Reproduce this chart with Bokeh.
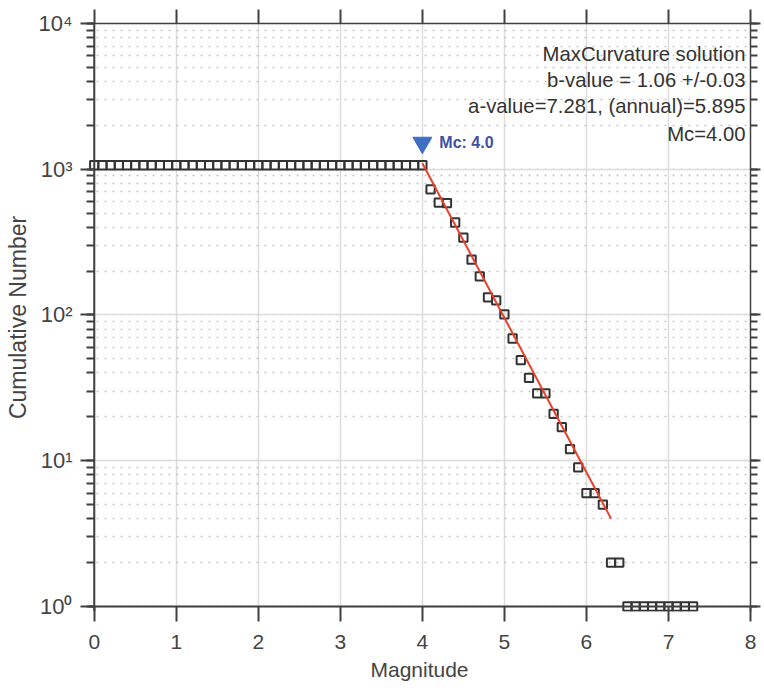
from bokeh.plotting import figure
from bokeh.models import (Range1d, LinearAxis, LogAxis, LogTicker, FixedTicker,
                          CustomJSTickFormatter, Label, ColumnDataSource, Span)
from bokeh.embed import file_html
from bokeh.resources import INLINE

# ---------------- data ----------------
magnitude = [0.0, 0.1, 0.2, 0.3, 0.4, 0.5, 0.6, 0.7, 0.8, 0.9,
             1.0, 1.1, 1.2, 1.3, 1.4, 1.5, 1.6, 1.7, 1.8, 1.9,
             2.0, 2.1, 2.2, 2.3, 2.4, 2.5, 2.6, 2.7, 2.8, 2.9,
             3.0, 3.1, 3.2, 3.3, 3.4, 3.5, 3.6, 3.7, 3.8, 3.9,
             4.0, 4.1, 4.2, 4.3, 4.4, 4.5, 4.6, 4.7, 4.8, 4.9,
             5.0, 5.1, 5.2, 5.3, 5.4, 5.5, 5.6, 5.7, 5.8, 5.9,
             6.0, 6.1, 6.2, 6.3, 6.4, 6.5, 6.6, 6.7, 6.8, 6.9,
             7.0, 7.1, 7.2, 7.3]
cumulative = [1065, 1065, 1065, 1065, 1065, 1065, 1065, 1065, 1065, 1065,
              1065, 1065, 1065, 1065, 1065, 1065, 1065, 1065, 1065, 1065,
              1065, 1065, 1065, 1065, 1065, 1065, 1065, 1065, 1065, 1065,
              1065, 1065, 1065, 1065, 1065, 1065, 1065, 1065, 1065, 1065,
              1065, 728, 591, 585, 431, 340, 240, 184, 132, 126,
              101, 69, 49, 37, 29, 29, 21, 17, 12, 9,
              6, 6, 5, 2, 2, 1, 1, 1, 1, 1,
              1, 1, 1, 1]

b_value = 1.06
a_value = 7.281
fit_mag = [4.0, 6.3]
mc_mag = [4.0]
mc_marker_count = [1520]

info_lines = ["MaxCurvature solution",
              "b-value = 1.06 +/-0.03",
              "a-value=7.281, (annual)=5.895",
              "Mc=4.00"]
x_ticks = [0, 1, 2, 3, 4, 5, 6, 7, 8]

FONT = "'Liberation Sans', Arial, sans-serif"
TXT = "#444444"
AX = "#404040"

# ---------------- figure ----------------
p = figure(frame_width=662, frame_height=588,
           x_range=Range1d(-0.07, 8), y_range=Range1d(0.924, 1e4),
           y_axis_type="log", output_backend="svg", toolbar_location=None,
           min_border_left=88, min_border_right=14, min_border_top=23,
           min_border_bottom=80, outline_line_color=None,
           background_fill_color="white", border_fill_color="white")

# grids
p.xgrid.ticker = FixedTicker(ticks=x_ticks)
p.xgrid.grid_line_color = "#dcdcdc"
p.xgrid.grid_line_width = 1.5
p.ygrid.grid_line_color = "#dcdcdc"
p.ygrid.grid_line_width = 1.5
p.ygrid.minor_grid_line_color = "#c4c4c4"
p.ygrid.minor_grid_line_dash = "2 6"
p.ygrid.minor_grid_line_width = 1.5

# bottom axis (at frame edge; its line is drawn by a span at N = 1)
xa = p.xaxis[0]
xa.ticker = FixedTicker(ticks=x_ticks)
xa.axis_line_color = None
xa.major_tick_line_color = AX
xa.major_tick_line_width = 2
xa.major_tick_in = 5
xa.major_tick_out = 10
xa.minor_tick_line_color = None
xa.major_label_standoff = 13
xa.major_label_text_font = FONT
xa.major_label_text_font_size = "21px"
xa.major_label_text_color = TXT
xa.axis_label = "Magnitude"
xa.axis_label_text_font = FONT
xa.axis_label_text_font_size = "21px"
xa.axis_label_text_font_style = "normal"
xa.axis_label_text_color = TXT
xa.axis_label_standoff = 6

# left axis (at frame edge; its line is drawn by a span at M = 0)
ya = p.yaxis[0]
ya.ticker = LogTicker(num_minor_ticks=10)
ya.formatter = CustomJSTickFormatter(code="""
const sup = {"0":"\u2070","1":"\u00b9","2":"\u00b2","3":"\u00b3","4":"\u2074","5":"\u2075","-":"\u207b"};
const e = Math.round(Math.log10(tick));
return "10" + String(e).split("").map(c => sup[c]).join("");
""")
ya.axis_line_color = None
ya.major_tick_line_color = AX
ya.major_tick_line_width = 2
ya.major_tick_in = 6
ya.major_tick_out = 8
ya.minor_tick_line_color = AX
ya.minor_tick_line_width = 2
ya.minor_tick_in = 6
ya.minor_tick_out = 2
ya.major_label_standoff = 8
ya.major_label_text_font = FONT
ya.major_label_text_font_size = "22px"
ya.major_label_text_color = TXT
ya.axis_label = "Cumulative Number"
ya.axis_label_text_font = FONT
ya.axis_label_text_font_size = "23px"
ya.axis_label_text_font_style = "normal"
ya.axis_label_text_color = TXT
ya.axis_label_standoff = 5

blank = CustomJSTickFormatter(code="return '';")

# top axis
ta = LinearAxis(ticker=FixedTicker(ticks=x_ticks), formatter=blank)
ta.axis_line_color = AX
ta.axis_line_width = 1.5
ta.major_tick_line_color = AX
ta.major_tick_line_width = 2
ta.major_tick_in = 0
ta.major_tick_out = 14
ta.minor_tick_line_color = None
ta.major_label_standoff = 0
p.add_layout(ta, "above")

# right axis
ra = LogAxis(ticker=LogTicker(num_minor_ticks=10), formatter=blank)
ra.axis_line_color = AX
ra.axis_line_width = 1.5
ra.major_tick_line_color = AX
ra.major_tick_line_width = 2
ra.major_tick_in = 0
ra.major_tick_out = 10
ra.minor_tick_line_color = AX
ra.minor_tick_line_width = 2
ra.minor_tick_in = 0
ra.minor_tick_out = 7
ra.major_label_standoff = 0
p.add_layout(ra, "right")

# ---------------- glyphs ----------------
src = ColumnDataSource(dict(m=magnitude, n=cumulative))
p.scatter("m", "n", source=src, marker="square", size=8.3,
          line_color="#333333", line_width=2, fill_color=None)

fit_n = [10 ** (a_value - b_value * m) for m in fit_mag]
p.line(fit_mag, fit_n, line_color="#e8412c", line_width=2)

p.scatter(mc_mag, mc_marker_count, marker="inverted_triangle", size=19,
          fill_color="#3f6fc2", line_color="#3f6fc2")

# axis lines at M = 0 and N = 1
p.add_layout(Span(location=0, dimension="height", line_color=AX, line_width=2))
p.add_layout(Span(location=1, dimension="width", line_color=AX, line_width=2))

p.add_layout(Label(x=mc_mag[0], y=mc_marker_count[0], x_offset=17,
                   text="Mc: 4.0", text_font=FONT, text_font_size="16px",
                   text_font_style="bold", text_color="#3f51a3",
                   text_baseline="middle", text_align="left"))

info_y = [10 ** 3.794, 10 ** 3.609, 10 ** 3.431, 10 ** 3.245]
for t, yy in zip(info_lines, info_y):
    p.add_layout(Label(x=8, y=yy, x_offset=-5, text=t, text_font=FONT,
                       text_font_size="20.3px", text_color="#333333",
                       text_align="right", text_baseline="middle"))

open("out.html", "w").write(file_html(p, INLINE))
